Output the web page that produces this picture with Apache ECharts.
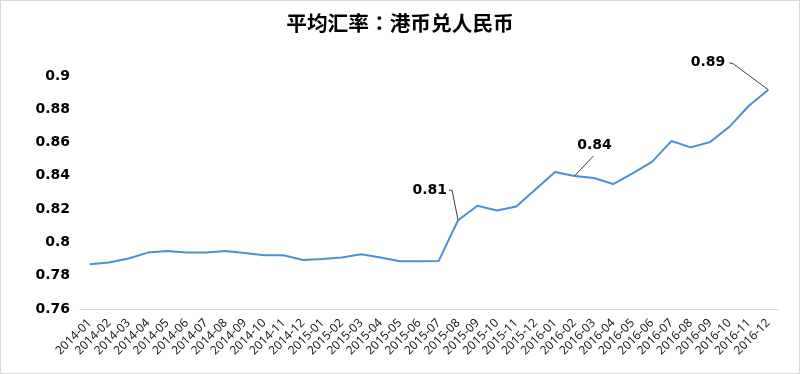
<!DOCTYPE html>
<html>
<head>
<meta charset="utf-8">
<script src="https://cdn.jsdelivr.net/npm/echarts@6/dist/echarts.min.js"></script>
<style>
html,body{margin:0;padding:0;background:#fff;}
#c{width:800px;height:374px;box-sizing:border-box;border:1px solid #d9d9d9;}
</style>
</head>
<body>
<div id="c"></div>
<script>
var titleParts = ['平均汇率', '：', '港币兑人民币'];
var categories = ['2014-01','2014-02','2014-03','2014-04','2014-05','2014-06','2014-07','2014-08','2014-09','2014-10','2014-11','2014-12',
  '2015-01','2015-02','2015-03','2015-04','2015-05','2015-06','2015-07','2015-08','2015-09','2015-10','2015-11','2015-12',
  '2016-01','2016-02','2016-03','2016-04','2016-05','2016-06','2016-07','2016-08','2016-09','2016-10','2016-11','2016-12'];
var rates = [0.7869,0.7879,0.7903,0.7939,0.7948,0.7940,0.7940,0.7948,0.7936,0.7923,0.7923,0.7895,
  0.7901,0.7909,0.7929,0.7909,0.7887,0.7887,0.7889,0.8133,0.8220,0.8192,0.8216,0.8320,
  0.8423,0.8399,0.8387,0.8351,0.8415,0.8484,0.8609,0.8571,0.8603,0.8696,0.8821,0.8917];
var annotated = ['2015-08','2016-02','2016-12'];
var yMin = 0.76, yMax = 0.9, yStep = 0.02;

// leader-line styling per annotation: polyline offsets from the point, text anchor offset and alignment
var leaderStyle = {
  '2015-08': {pts:[[-6,-30],[-9,-30]], text:[-11,-30], align:'right'},
  '2016-02': {pts:[[19,-20]], text:[20,-31], align:'center'},
  '2016-12': {pts:[[-35,-26],[-39,-27]], text:[-43,-27], align:'right'}
};

var annotationData = annotated.map(function(c){
  return [c, rates[categories.indexOf(c)]];
});

var chart = echarts.init(document.getElementById('c'), null, {renderer:'canvas'});
chart.setOption({
  animation:false,
  backgroundColor:'#fff',
  title:{
    text:titleParts[0] + '{c|' + titleParts[1] + '}' + titleParts[2], left:'center', top:7,
    textStyle:{fontFamily:'Noto Sans CJK SC', fontSize:20.7, fontWeight:'bold', color:'#000',
      rich:{c:{fontFamily:'Noto Sans CJK TC', fontSize:20.7, fontWeight:'bold', color:'#000'}}}
  },
  grid:{left:79, right:21, top:75, bottom:64},
  xAxis:{
    type:'category', data:categories, boundaryGap:true,
    axisLine:{show:true, lineStyle:{color:'#d9d9d9', width:1}},
    axisTick:{show:false},
    axisLabel:{rotate:45, interval:0, margin:12, fontSize:12, fontFamily:'Noto Sans', color:'#1a1a1a'}
  },
  yAxis:{
    type:'value', min:yMin, max:yMax, interval:yStep,
    axisLine:{show:false}, axisTick:{show:false},
    splitLine:{show:false},
    axisLabel:{fontSize:14, fontWeight:'bold', fontFamily:'DejaVu Sans', color:'#000', margin:10}
  },
  series:[{
    type:'line', data:rates, showSymbol:false, symbol:'none',
    lineStyle:{color:'#4a90d9', width:2},
    itemStyle:{color:'#4a90d9'},
    z:2
  },{
    type:'custom', data:annotationData, z:3,
    encode:{x:0, y:1},
    renderItem:function(params, api){
      var cat = annotationData[params.dataIndex][0];
      var p = api.coord([api.value(0), api.value(1)]);
      var st = leaderStyle[cat];
      var pts = [[p[0], p[1]]].concat(st.pts.map(function(o){return [p[0]+o[0], p[1]+o[1]];}));
      return {
        type:'group',
        children:[
          {type:'polyline', shape:{points:pts}, style:{stroke:'#404040', lineWidth:1, fill:null}},
          {type:'text', x:p[0]+st.text[0], y:p[1]+st.text[1],
            style:{text:api.value(1).toFixed(2), align:st.align, verticalAlign:'middle',
              font:'bold 14px "DejaVu Sans"', fill:'#000'}}
        ]
      };
    }
  }]
});
</script>
</body>
</html>
